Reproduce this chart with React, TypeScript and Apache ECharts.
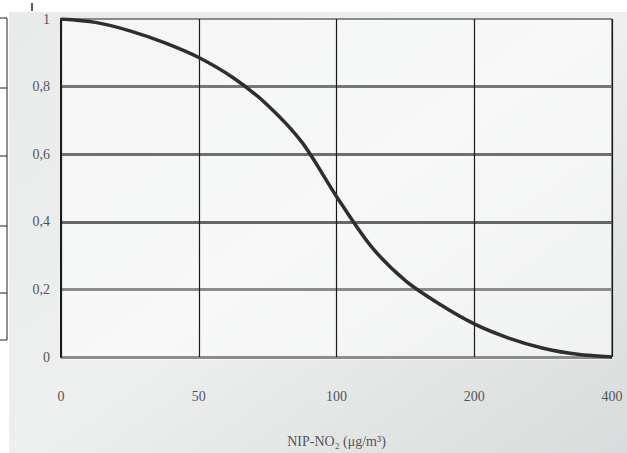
import React, { useEffect, useRef } from "react";
import * as echarts from "echarts";

const xTickLabels = ["0", "50", "100", "200", "400"];
// curve positions on the (equally spaced) tick index scale
const curveX = [0, 0.25, 0.5, 0.75, 1.0, 1.25, 1.5, 1.75, 2.0, 2.25, 2.5, 2.75, 3.0, 3.25, 3.5, 3.75, 4.0];
const curveY = [1.0, 0.99, 0.965, 0.93, 0.886, 0.826, 0.745, 0.635, 0.475, 0.328, 0.226, 0.156, 0.098, 0.056, 0.026, 0.008, 0.0];
const yTicks = [0, 0.2, 0.4, 0.6, 0.8, 1];
const xAxisTitle = "NIP-NO\u2082 (\u03bcg/m\u00b3)";

export default function App() {
  const ref = useRef<HTMLDivElement>(null);
  useEffect(() => {
    if (!ref.current) return;
    const chart = echarts.init(ref.current, null, { renderer: "svg" });
    const serif = "Liberation Serif";
    chart.setOption({
      animation: false,
      backgroundColor: "#ffffff",
      graphic: [
        {
          type: "rect",
          z: -10,
          shape: { x: 9, y: 12, width: 618, height: 441 },
          style: {
            fill: new echarts.graphic.LinearGradient(0, 0, 1, 1, [
              { offset: 0, color: "#e9eaea" },
              { offset: 0.5, color: "#eeefef" },
              { offset: 1, color: "#d9dcdc" },
            ]),
          },
        },
        {
          type: "rect",
          z: -9,
          shape: { x: 61, y: 19, width: 551, height: 341 },
          style: { fill: "rgba(255,255,255,0.55)" },
        },
        { type: "line", shape: { x1: 7, y1: 18, x2: 7, y2: 340 }, style: { stroke: "#222", lineWidth: 1 } },
        ...[18, 88, 156, 226, 293, 340].map((y) => ({
          type: "line",
          shape: { x1: 0, y1: y, x2: 7, y2: y },
          style: { stroke: "#222", lineWidth: 1 },
        })),
        { type: "line", shape: { x1: 32, y1: 3, x2: 32, y2: 11 }, style: { stroke: "#222", lineWidth: 1.5 } },
      ],
      grid: {
        left: 61,
        right: 15,
        top: 19,
        bottom: 93,
        show: true,
        borderColor: "#222",
        borderWidth: 1,
        backgroundColor: "transparent",
      },
      xAxis: {
        type: "value",
        min: 0,
        max: 4,
        interval: 1,
        name: xAxisTitle,
        nameLocation: "middle",
        nameGap: 77,
        nameTextStyle: { fontFamily: serif, fontSize: 14, color: "#555" },
        axisLine: { show: false },
        axisTick: { show: false },
        axisLabel: {
          margin: 32,
          fontFamily: serif,
          fontSize: 14,
          color: "#555",
          formatter: (v: number) => xTickLabels[Math.round(v)] ?? "",
        },
        splitLine: { show: true, lineStyle: { color: "#1a1a1a", width: 1.2 } },
      },
      yAxis: {
        type: "value",
        min: 0,
        max: 1,
        interval: 0.2,
        axisLine: { show: true, lineStyle: { color: "#1a1a1a", width: 2 } },
        axisTick: { show: false },
        axisLabel: {
          margin: 11,
          fontFamily: serif,
          fontSize: 14,
          color: "#555",
          formatter: (v: number) => {
            const t = yTicks.find((k) => Math.abs(k - v) < 1e-6);
            if (t === undefined) return "";
            return t === 0 || t === 1 ? String(t) : t.toFixed(1).replace(".", ",");
          },
        },
        splitLine: {
          show: true,
          lineStyle: {
            color: ["#8c8c8c", "#8c8c8c", "#666666", "#6e6e6e", "#777777", "rgba(0,0,0,0)"],
            width: 3,
          },
        },
      },
      series: [
        {
          type: "line",
          data: curveX.map((x, i) => [x, curveY[i]]),
          smooth: 0.3,
          symbol: "none",
          lineStyle: { color: "#2e2e2e", width: 3.5 },
          z: 5,
        },
      ],
    });
    return () => chart.dispose();
  }, []);
  return (
    <div
      ref={ref}
      style={{ position: "fixed", left: 0, top: 0, width: 627, height: 453 }}
    />
  );
}
